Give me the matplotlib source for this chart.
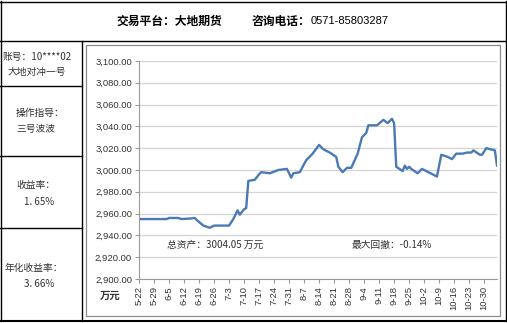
import matplotlib
matplotlib.use("Agg")
import matplotlib.pyplot as plt
from matplotlib.patches import Rectangle
from matplotlib.lines import Line2D
import pandas as pd

plt.rcParams['font.family'] = ['Noto Sans CJK SC', 'DejaVu Sans']

YEAR = 2017
dates = ["05-22", "06-04", "06-05", "06-09", "06-11", "06-15", "06-17", "06-18",
         "06-21", "06-24", "06-26", "07-03", "07-05", "07-07", "07-08", "07-10",
         "07-11", "07-12", "07-15", "07-17", "07-18", "07-22", "07-26", "07-30",
         "08-01", "08-02", "08-05", "08-08", "08-11", "08-14", "08-16", "08-18",
         "08-19", "08-22", "08-23", "08-25", "08-27", "08-29", "09-01", "09-03",
         "09-05", "09-06", "09-10", "09-13", "09-15", "09-17", "09-18", "09-19",
         "09-22", "09-23", "09-24", "09-25", "09-26", "09-29", "10-01", "10-08",
         "10-10", "10-13", "10-15", "10-17", "10-20", "10-22", "10-24", "10-25",
         "10-28", "10-29", "10-31", "11-04", "11-05"]
values = [2955, 2955, 2956, 2956, 2955, 2955.5, 2956, 2954,
          2949, 2947, 2949, 2949, 2955, 2963, 2959, 2964,
          2965, 2990, 2991, 2996, 2998, 2997, 3000, 3001,
          2993, 2997, 2998, 3009, 3015, 3023, 3019, 3017,
          3016, 3012, 3003, 2998, 3002, 3002, 3015, 3030,
          3034, 3041, 3041, 3046, 3043, 3047, 3043, 3003,
          2999, 3004, 3001, 3003, 3001, 2997, 3001, 2994,
          3014, 3012, 3010, 3015, 3015, 3016, 3016, 3018,
          3014, 3014, 3020, 3018, 3004.05]
tick_labels = ["5-22", "5-29", "6-5", "6-12", "6-19", "6-26", "7-3", "7-10",
               "7-17", "7-24", "7-31", "8-7", "8-14", "8-21", "8-28", "9-4",
               "9-11", "9-18", "9-25", "10-2", "10-9", "10-16", "10-23", "10-30"]
y_ticks = [2900, 2920, 2940, 2960, 2980, 3000, 3020, 3040, 3060, 3080, 3100]

header_left = "交易平台：大地期货"
header_right_cn = "咨询电话："
header_phone = "0571-85803287"
side_texts = [("账号：10****02", "大地对冲一号"),
              ("操作指导：", "三号波波"),
              ("收益率：", "1. 65%"),
              ("年化收益率：", "3. 66%")]
total_text = "总资产：3004.05 万元"
drawdown_text = "最大回撤：-0.14%"
unit_text = "万元"

W, H = 507, 323
fig = plt.figure(figsize=(W / 100, H / 100), dpi=100)
fig.patch.set_facecolor("white")

def fx(x):
    return x / W

def fy(y):
    return 1 - y / H

def hline(y, x0, x1, color="black", lw=1.0):
    fig.add_artist(Line2D([fx(x0), fx(x1)], [fy(y), fy(y)], color=color, lw=lw, transform=fig.transFigure))

def vline(x, y0, y1, color="black", lw=1.0):
    fig.add_artist(Line2D([fx(x), fx(x)], [fy(y0), fy(y1)], color=color, lw=lw, transform=fig.transFigure))

hline(1.5, 0, 506)
hline(41, 0, 506)
hline(321, 0, 506, lw=1.5)
vline(0.5, 1, 321)
vline(505.5, 1, 321)
vline(81.5, 41, 321)
for yy in [86, 156, 228]:
    hline(yy, 0, 81.5)

# gray chart box
fig.add_artist(Rectangle((fx(86), fy(316)), fx(500) - fx(86), fy(45) - fy(316),
                         fill=False, edgecolor="#8c8c8c", lw=0.9, transform=fig.transFigure))

# header text
fig.text(fx(116), fy(21), header_left, fontsize=8.5, fontweight="bold", va="center", ha="left", color="black")
fig.text(fx(252), fy(21), header_right_cn, fontsize=8.5, fontweight="bold", va="center", ha="left", color="black")
fig.text(fx(311), fy(21), header_phone, fontsize=8, va="center", ha="left", color="black",
         family=["Liberation Sans", "DejaVu Sans"])

# side texts
side_pos = [((3, 57), (8, 72)), ((16, 113), (16, 129)), ((16, 185), (24, 202)), ((5, 268), (24, 284))]
for (t1, t2), ((x1, y1), (x2, y2)) in zip(side_texts, side_pos):
    fig.text(fx(x1), fy(y1), t1, fontsize=7, va="center", ha="left", color="#333333")
    fig.text(fx(x2), fy(y2), t2, fontsize=7, va="center", ha="left", color="#333333")

# axes
ax = fig.add_axes([fx(139), fy(279), fx(497) - fx(139), fy(61) - fy(279)])
x = pd.to_datetime([f"{YEAR}-{d}" for d in dates])
ax.plot(x, values, color="#4a7ab5", lw=1.7, solid_joinstyle="round")
start = pd.Timestamp(f"{YEAR}-05-22")
ax.set_xlim(start, pd.Timestamp(f"{YEAR}-11-05"))
ax.set_ylim(2900, 3100)
ax.set_yticks(y_ticks)
ax.set_yticklabels([f"{v:,.2f}" for v in y_ticks], family=["Liberation Sans", "DejaVu Sans"], fontsize=6.8, color="#333333")
tick_pos = [start + pd.Timedelta(days=7 * i) for i in range(len(tick_labels))]
ax.set_xticks(tick_pos)
ax.set_xticklabels(tick_labels, rotation=90, family=["Liberation Sans", "DejaVu Sans"], fontsize=6.8, color="#333333")
ax.grid(axis="y", color="#d4d4d4", lw=0.9)
ax.set_axisbelow(True)
for s in ["top", "right"]:
    ax.spines[s].set_visible(False)
for s in ["left", "bottom"]:
    ax.spines[s].set_color("#9a9a9a")
    ax.spines[s].set_linewidth(0.8)
ax.tick_params(axis="both", length=3, color="#9a9a9a", width=0.8, pad=2)
ax.set_facecolor("white")

fig.text(fx(100), fy(296), unit_text, fontsize=7.5, fontweight="bold", va="center", ha="left", color="#333333")
fig.text(fx(167), fy(245), total_text, fontsize=7, va="center", ha="left", color="#333333")
fig.text(fx(352), fy(245), drawdown_text, fontsize=7, va="center", ha="left", color="#333333")

fig.savefig("out.png", dpi=100)
